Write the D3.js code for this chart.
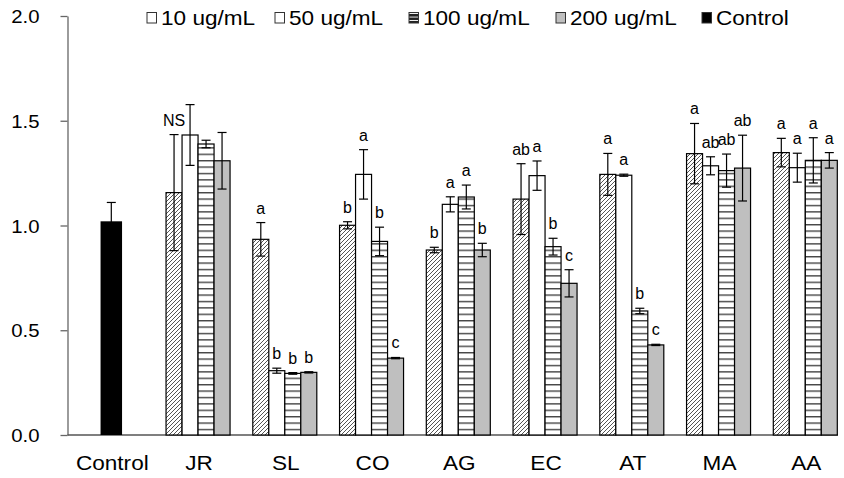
<!DOCTYPE html>
<html>
<head>
<meta charset="utf-8">
<script src="https://cdn.jsdelivr.net/npm/d3@7"></script>
<style>
  body { margin: 0; background: #fff; }
  svg { display: block; }
  text { font-family: "Liberation Sans", Arial, sans-serif; fill: #000; }
</style>
</head>
<body>
<script>
// data
const categories = ["Control", "JR", "SL", "CO", "AG", "EC", "AT", "MA", "AA"];
const groups = ["JR", "SL", "CO", "AG", "EC", "AT", "MA", "AA"];
const seriesNames = ["10 ug/mL", "50 ug/mL", "100 ug/mL", "200 ug/mL"];
const controlValue = 1.02;
const controlErr = 0.09;

const values10  = [1.157, 0.934, 1.001, 0.883, 1.126, 1.244, 1.343, 1.348];
const err10     = [0.277, 0.080, 0.017, 0.013, 0.169, 0.100, 0.144, 0.068];
const values50  = [1.432, 0.307, 1.244, 1.101, 1.238, 1.240, 1.285, 1.276];
const err50     = [0.145, 0.012, 0.118, 0.036, 0.070, 0.005, 0.043, 0.069];
const values100 = [1.389, 0.294, 0.924, 1.136, 0.899, 0.592, 1.262, 1.311];
const err100    = [0.018, 0.004, 0.068, 0.057, 0.040, 0.013, 0.079, 0.108];
const values200 = [1.309, 0.299, 0.367, 0.883, 0.724, 0.430, 1.274, 1.311];
const err200    = [0.135, 0.003, 0.003, 0.032, 0.065, 0.003, 0.157, 0.037];

const letters10  = ["NS", "a", "b", "b", "ab", "a", "a", "a"];
const letters50  = ["", "b", "a", "a", "a", "a", "ab", "a"];
const letters100 = ["", "b", "b", "a", "b", "b", "ab", "a"];
const letters200 = ["", "b", "c", "b", "c", "c", "ab", "a"];

const yTicks = [0, 0.5, 1.0, 1.5, 2.0];

const W = 844, H = 478;
const stretch = 1.13; // text in the picture is a bit wide

const svg = d3.select("body").append("svg")
    .attr("width", W)
    .attr("height", H);

// patterns
const defs = svg.append("defs");
const hatch = defs.append("pattern")
    .attr("id", "hatch")
    .attr("patternUnits", "userSpaceOnUse")
    .attr("width", 4).attr("height", 4);
hatch.append("rect").attr("width", 4).attr("height", 4).attr("fill", "#fff");
hatch.append("path")
    .attr("d", "M-1,1 l2,-2 M0,4 l4,-4 M3,5 l2,-2")
    .attr("stroke", "#555").attr("stroke-width", 1);

const hlines = defs.append("pattern")
    .attr("id", "hlines")
    .attr("patternUnits", "userSpaceOnUse")
    .attr("width", 8).attr("height", 6.4);
hlines.append("rect").attr("width", 8).attr("height", 6.4).attr("fill", "#fff");
hlines.append("rect").attr("y", 0).attr("width", 8).attr("height", 1.4).attr("fill", "#444");

const hlinesDense = defs.append("pattern")
    .attr("id", "hlinesDense")
    .attr("patternUnits", "userSpaceOnUse")
    .attr("width", 8).attr("height", 3.5);
hlinesDense.append("rect").attr("width", 8).attr("height", 3.5).attr("fill", "#fff");
hlinesDense.append("rect").attr("width", 8).attr("height", 2.6).attr("fill", "#222");

const fills = ["url(#hatch)", "#fff", "url(#hlines)", "#bfbfbf"];
const legendFills = ["#fff", "#fff", "url(#hlinesDense)", "#bfbfbf", "#000"];

// scales
const x = d3.scalePoint().domain(categories).range([111.3, 805.3]);
const inner = d3.scaleBand().domain(seriesNames).range([-32, 32]).padding(0);
const y = d3.scaleLinear().domain([0, 2]).range([435, 16]);

// y axis
const yAxis = svg.append("g")
    .attr("transform", "translate(67.5,0)")
    .call(d3.axisLeft(y).tickValues(yTicks).tickFormat(d3.format(".1f")).tickSize(7).tickSizeOuter(0));
yAxis.select(".domain").attr("stroke", "#666").attr("stroke-width", 1.3);
yAxis.selectAll(".tick line").attr("stroke", "#666").attr("stroke-width", 1.3);
yAxis.selectAll(".tick text")
    .attr("x", null).attr("dy", null)
    .attr("font-size", 18)
    .attr("font-family", "Liberation Sans, Arial, sans-serif")
    .attr("fill", "#000")
    .attr("text-anchor", "end")
    .attr("transform", "translate(-28,6.5) scale(" + stretch + ",1)");

// x axis line
svg.append("line")
    .attr("x1", 67.5).attr("x2", 838)
    .attr("y1", y(0)).attr("y2", y(0))
    .attr("stroke", "#555").attr("stroke-width", 1.5);

// category labels
svg.selectAll(".catLabel")
    .data(categories)
    .enter()
    .append("text")
    .attr("class", "catLabel")
    .attr("text-anchor", "middle")
    .attr("font-size", 20)
    .attr("fill", "#000")
    .attr("transform", d => "translate(" + (x(d) + 1) + ",470) scale(" + stretch + ",1)")
    .text(d => d);

// control bar
svg.append("rect")
    .attr("x", x("Control") - 10.75)
    .attr("width", 21.5)
    .attr("y", y(controlValue))
    .attr("height", y(0) - y(controlValue))
    .attr("fill", "#000");

// treatment bars
const seriesVals = [values10, values50, values100, values200];
const seriesErrs = [err10, err50, err100, err200];
const seriesLetters = [letters10, letters50, letters100, letters200];

const barData = [];
seriesNames.forEach((s, si) => {
    groups.forEach((g, gi) => {
        barData.push({
            group: g, series: s, si: si,
            value: seriesVals[si][gi],
            err: seriesErrs[si][gi],
            letter: seriesLetters[si][gi]
        });
    });
});

svg.selectAll(".bar")
    .data(barData)
    .enter()
    .append("rect")
    .attr("class", "bar")
    .attr("x", d => x(d.group) + inner(d.series))
    .attr("width", inner.bandwidth())
    .attr("y", d => y(d.value))
    .attr("height", d => y(0) - y(d.value))
    .attr("fill", d => fills[d.si])
    .attr("stroke", "#000")
    .attr("stroke-width", 1.2);

// error bars
const errData = barData.map(d => ({cx: x(d.group) + inner(d.series) + inner.bandwidth() / 2, value: d.value, err: d.err}));
errData.push({cx: x("Control"), value: controlValue, err: controlErr});

const eb = svg.selectAll(".err")
    .data(errData)
    .enter()
    .append("g")
    .attr("class", "err")
    .attr("stroke", "#000")
    .attr("stroke-width", 1.2);
eb.append("line")
    .attr("x1", d => d.cx).attr("x2", d => d.cx)
    .attr("y1", d => y(d.value + d.err)).attr("y2", d => y(d.value - d.err));
eb.append("line")
    .attr("x1", d => d.cx - 4.5).attr("x2", d => d.cx + 4.5)
    .attr("y1", d => y(d.value + d.err)).attr("y2", d => y(d.value + d.err));
eb.append("line")
    .attr("x1", d => d.cx - 4.5).attr("x2", d => d.cx + 4.5)
    .attr("y1", d => y(d.value - d.err)).attr("y2", d => y(d.value - d.err));

// significance letters
svg.selectAll(".sig")
    .data(barData.filter(d => d.letter !== ""))
    .enter()
    .append("text")
    .attr("class", "sig")
    .attr("text-anchor", "middle")
    .attr("font-size", 16)
    .attr("fill", "#000")
    .attr("transform", d => "translate(" + (x(d.group) + inner(d.series) + inner.bandwidth() / 2) + "," + (y(d.value + d.err) - 9) + ")")
    .text(d => d.letter);

// legend
const legendNames = seriesNames.concat(["Control"]);
const legendX = [147, 275, 409, 556, 702];

const lg = svg.selectAll(".legendItem")
    .data(legendNames)
    .enter()
    .append("g")
    .attr("class", "legendItem")
    .attr("transform", (d, i) => "translate(" + legendX[i] + ",0)");
lg.append("rect")
    .attr("x", 0).attr("y", 12.5)
    .attr("width", 9.5).attr("height", 10.5)
    .attr("fill", (d, i) => legendFills[i])
    .attr("stroke", "#333")
    .attr("stroke-width", 1);
lg.append("text")
    .attr("font-size", 20)
    .attr("fill", "#000")
    .attr("transform", "translate(14,24.5) scale(" + stretch + ",1)")
    .text(d => d);
</script>
</body>
</html>
